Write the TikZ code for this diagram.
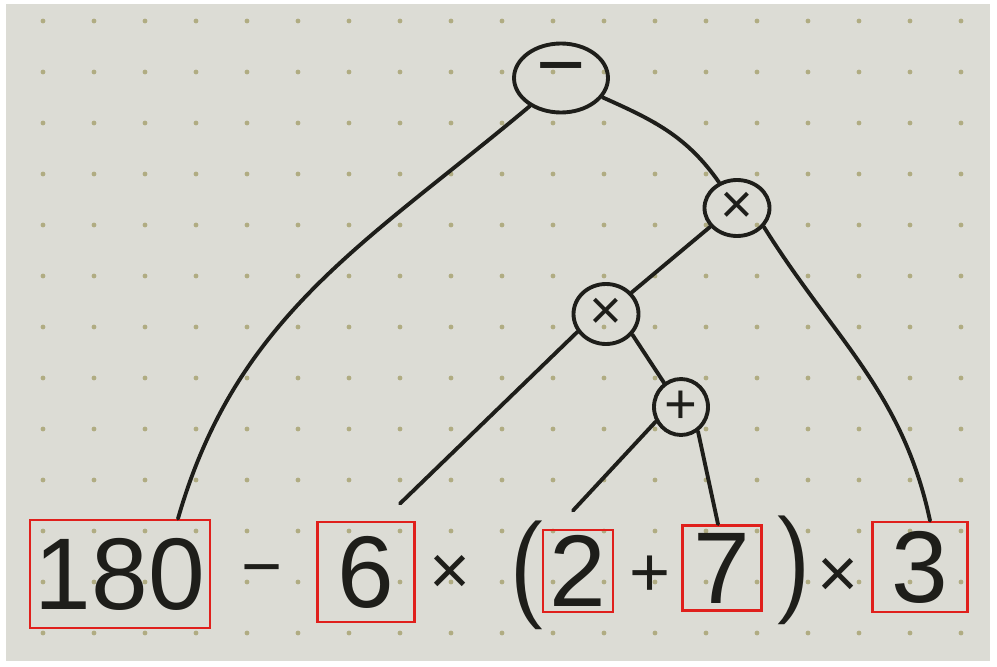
\documentclass[tikz,border=0pt]{standalone}
\usepackage{fontspec}
\setmainfont{Liberation Sans}
\usetikzlibrary{shapes.geometric,calc}
\definecolor{paper}{HTML}{DCDCD5}
\definecolor{dotc}{HTML}{B0AC82}
\definecolor{ink}{HTML}{1E1E1A}
\definecolor{redbox}{HTML}{E0201C}
\begin{document}
\begin{tikzpicture}[x=0.02cm,y=-0.02cm,
  op/.style={draw=ink, line width=2.2pt, ellipse, inner sep=0pt, text=ink, font=\fontsize{32}{32}\selectfont},
  numbox/.style={draw=redbox, line width=1.6pt, inner sep=0pt, text=ink, font=\fontsize{58}{58}\selectfont},
  sym/.style={inner sep=0pt, text=ink, font=\fontsize{40}{40}\selectfont},
  paren/.style={inner sep=0pt, text=ink, font=\sffamily\fontsize{62}{62}\selectfont},
  edge/.style={draw=ink, line width=2.2pt, line cap=round}]
\useasboundingbox (0,0) rectangle (997,666);
\fill[white] (0,0) rectangle (997,666);
\fill[paper] (6,4) rectangle (990,661);
\foreach \i in {0,...,18} \foreach \j in {0,...,12} \fill[dotc] (43+51*\i, 21+51*\j) circle (2.4);
% operator nodes
\node[op, minimum width=1.88cm, minimum height=1.38cm, font=\fontsize{48}{48}\selectfont] (m) at (561,78) {−};
\node[op, minimum width=1.3cm, minimum height=1.12cm] (x1) at (737,208) {×};
\node[op, minimum width=1.3cm, minimum height=1.2cm] (x2) at (606,314) {×};
\node[op, minimum width=1.08cm, minimum height=1.12cm] (p) at (681,407) {+};
% number boxes
\node[numbox, minimum width=3.6cm, minimum height=2.16cm] (b180) at (120,574) {180};
\node[numbox, minimum width=1.94cm, minimum height=2.0cm] (b6) at (366,572) {6};
\node[numbox, minimum width=1.4cm, minimum height=1.64cm] (b2) at (578,571) {2};
\node[numbox, minimum width=1.58cm, minimum height=1.7cm] (b7) at (722,568) {7};
\node[numbox, minimum width=1.9cm, minimum height=1.8cm] (b3) at (920,567) {3};
% symbols of the expression
\node[sym] (s1) at (262,578) {−};
\node[sym] (s2) at (450,575) {×};
\node[paren] (s3) at (528,575) {(};
\node[sym] (s4) at (650,576) {+};
\node[paren] (s5) at (792,570) {)};
\node[sym] (s6) at (838,578) {×};
% free ends
\coordinate (e180) at ($(b180.north)+(58,0)$);
\coordinate (e6) at ($(b6.north)+(34,-17)$);
\coordinate (e2) at ($(b2.north)+(-5,-18)$);
\coordinate (e7) at ($(b7.north)+(-4,0)$);
\coordinate (e3) at ($(b3.north)+(10,0)$);
% connectors
\draw[edge] (m.-138) to[out=-140,in=74] (e180);
\draw[edge] (m.-25) to[out=-24,in=125] (x1.125);
\draw[edge] (x1.-145) -- (x2.40);
\draw[edge] (x1.-35) to[out=-58,in=102] (e3);
\draw[edge] (x2.212) -- (e6);
\draw[edge] (x2.-38) -- (p.125);
\draw[edge] (p.-150) -- (e2);
\draw[edge] (p.-55) -- (e7);
\end{tikzpicture}
\end{document}
